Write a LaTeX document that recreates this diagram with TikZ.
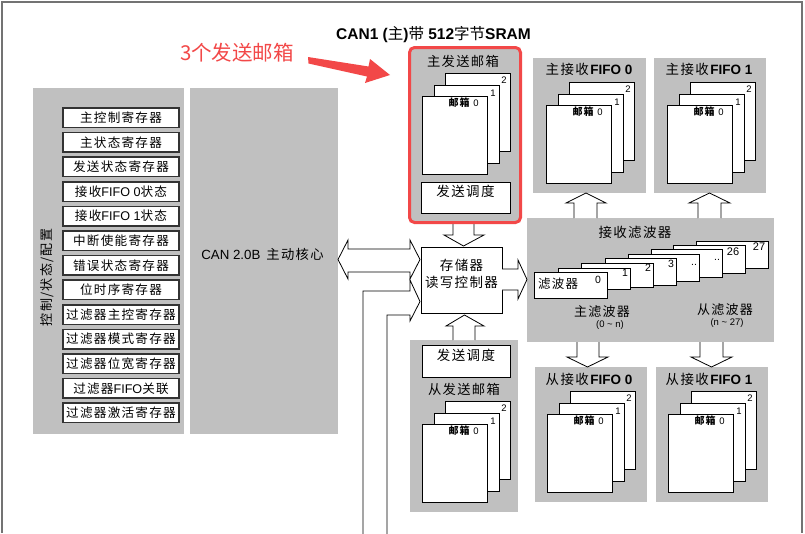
\documentclass[tikz,border=0pt]{standalone}
\usepackage{fontspec}
\setmainfont{Liberation Sans}
\newfontfamily\cjk[LetterSpace=10]{Noto Sans CJK SC}
\newfontfamily\cjkn{Noto Sans CJK SC}
\usetikzlibrary{fit,calc}
\definecolor{panelgray}{RGB}{192,192,192}
\definecolor{framegray}{RGB}{115,115,115}
\definecolor{annored}{RGB}{242,72,72}
\newcommand{\fsz}[1]{\fontsize{#1}{#1}\selectfont}
\newcommand{\lat}[1]{{\rmfamily #1}}
\begin{document}
\begin{tikzpicture}[x=1pt,y=-1pt,
  panel/.style={fill=panelgray, draw=none, inner sep=0pt},
  wbox/.style={fill=white, draw=black, line width=0.9pt, inner sep=0pt},
  regbox/.style={fill=white, draw=black!80, line width=1.5pt, inner sep=0pt,
     minimum width=116pt, minimum height=19.5pt, font=\cjk\fsz{12.6}},
  page/.style={fill=white, draw=black, line width=0.9pt, inner sep=0pt,
     minimum width=65pt, minimum height=78pt, anchor=north west},
  fpage/.style={fill=white, draw=black, line width=0.9pt, inner sep=0pt},
  numlab/.style={font=\fsz{9.5}, inner sep=0pt},
  mblab/.style={font=\cjk\bfseries\fsz{10}, inner sep=0pt},
  ttl/.style={font=\fsz{13.5}, inner sep=0pt},
  barrow/.style={fill=white, draw=black, line width=0.8pt, line join=miter},
  mailstack/.pic={
    \node[page] (-p2) at (23,-23) {};
    \node[page] (-p1) at (11.5,-11.5) {};
    \node[page] (-p0) at (0,0) {};
    \node[numlab] (-l0) at (54,7) {0};
    \node[mblab] (-m0) at (37,7) {邮箱};
    \node[numlab] (-l1) at (71,-2.5) {1};
    \node[numlab] (-l2) at (82,-16) {2};
  }
]
\useasboundingbox (0,0) rectangle (805,533);
% frame
\draw[framegray, line width=1.5pt] (2,533) -- (2,2) -- (802,2) -- (802,533);

% title
\node[inner sep=0pt, font=\fsz{15.5}] (title) at (433.5,35)
  {{\bfseries CAN1 (}{\cjkn 主}{\bfseries )}{\cjkn 带} {\bfseries 512}{\cjkn 字节}{\bfseries SRAM}};

% panels
\node[panel, fit={(33,88)(184,434)}] (ctrl) {};
\node[panel, fit={(190,88)(338,434)}] (core) {};
\node[panel, fit={(410,48)(520,222)}] (mtx) {};
\node[panel, fit={(533,58)(646,193)}] (mrx0) {};
\node[panel, fit={(654,58)(766,193)}] (mrx1) {};
\node[panel, fit={(527,218)(774,342)}] (filt) {};
\node[panel, fit={(410,340)(518,512)}] (stx) {};
\node[panel, fit={(535,367)(647,502)}] (srx0) {};
\node[panel, fit={(656,367)(768,502)}] (srx1) {};

% control / status / config
\node[rotate=90, font=\cjk\fsz{13}, inner sep=0pt] (ctrllab) at (47,277.5) {控制/状态/配置};
\node[regbox] (reg0) at (121,117.75) {主控制寄存器};
\node[regbox] (reg1) at (121,142.35) {主状态寄存器};
\node[regbox] (reg2) at (121,166.95) {发送状态寄存器};
\node[regbox] (reg3) at (121,191.55) {接收\lat{FIFO 0}状态};
\node[regbox] (reg4) at (121,216.15) {接收\lat{FIFO 1}状态};
\node[regbox] (reg5) at (121,240.75) {中断使能寄存器};
\node[regbox] (reg6) at (121,265.35) {错误状态寄存器};
\node[regbox] (reg7) at (121,289.95) {位时序寄存器};
\node[regbox] (reg8) at (121,314.55) {过滤器主控寄存器};
\node[regbox] (reg9) at (121,339.15) {过滤器模式寄存器};
\node[regbox] (reg10) at (121,363.75) {过滤器位宽寄存器};
\node[regbox] (reg11) at (121,388.35) {过滤器\lat{FIFO}关联};
\node[regbox] (reg12) at (121,412.95) {过滤器激活寄存器};

% core
\node[inner sep=0pt, font=\fsz{13.3}] (corelab) at (262.5,254) {CAN 2.0B\hspace{6pt}{\cjk 主动核心}};

% master tx mailboxes
\node[ttl, font=\cjk\fsz{13.3}] (mtxlab) at (463,61) {主发送邮箱};
\pic (mtxs) at (422,96) {mailstack};
\node[wbox, fit={(421,182)(510,213)}, font=\cjk\fsz{13.5}] (msched) {发送调度};

% master rx fifos
\node[ttl] (mrx0lab) at (589,69) {{\cjk 主接收}\textbf{FIFO 0}};
\pic (mrx0s) at (546,105) {mailstack};
\node[ttl] (mrx1lab) at (709,69) {{\cjk 主接收}\textbf{FIFO 1}};
\pic (mrx1s) at (667,105) {mailstack};

% memory controller
\node[wbox, fit={(421,247)(502,313)}, align=center, font=\cjk\fontsize{13.5}{17}\selectfont] (mem) {存储器\\读写控制器};

% slave tx
\node[wbox, fit={(422,345)(510,377)}, font=\cjk\fsz{13.5}] (ssched) {发送调度};
\node[ttl, font=\cjk\fsz{13.3}] (stxlab) at (464,389) {从发送邮箱};
\pic (stxs) at (422,424) {mailstack};

% slave rx fifos
\node[ttl] (srx0lab) at (589,379) {{\cjk 从接收}\textbf{FIFO 0}};
\pic (srx0s) at (547,414) {mailstack};
\node[ttl] (srx1lab) at (709,379) {{\cjk 从接收}\textbf{FIFO 1}};
\pic (srx1s) at (668,414) {mailstack};

% filters
\node[ttl, font=\cjk\fsz{13.5}] (filtlab) at (635,232) {接收滤波器};
\node[fpage, fit={(696,241)(768,268)}] (f27) {};
\node[fpage, fit={(673,245)(745,273)}] (f26) {};
\node[fpage, fit={(651,249)(722,277)}] (f5) {};
\node[fpage, fit={(628,254)(699,281)}] (f4) {};
\node[fpage, fit={(605,258)(676,285)}] (f3) {};
\node[fpage, fit={(581,263)(653,287)}] (f2) {};
\node[fpage, fit={(558,268)(630,289)}] (f1) {};
\node[fpage, fit={(534,272)(607,298)}] (f0) {};
\node[numlab, font=\fsz{10.5}] (f0n) at (598,280) {0};
\node[numlab, font=\fsz{10.5}] (f1n) at (625,273) {1};
\node[numlab, font=\fsz{10.5}] (f2n) at (648,268) {2};
\node[numlab, font=\fsz{10.5}] (f3n) at (671,264) {3};
\node[numlab, font=\fsz{10.5}, anchor=base] (f4n) at (694,265) {..};
\node[numlab, font=\fsz{10.5}, anchor=base] (f5n) at (717,260) {..};
\node[numlab, font=\fsz{11}] (f26n) at (733,252) {26};
\node[numlab, font=\fsz{11}] (f27n) at (759,247) {27};
\node[inner sep=0pt, font=\cjk\fsz{12.5}] (f0lab) at (558,284) {滤波器};
\node[inner sep=0pt, font=\cjk\fsz{13}] (mflab) at (602,312) {主滤波器};
\node[inner sep=0pt, font=\fsz{9.5}] (mfr) at (610,325) {(0 \textasciitilde\ n)};
\node[inner sep=0pt, font=\cjk\fsz{13}] (sflab) at (725,310) {从滤波器};
\node[inner sep=0pt, font=\fsz{9.5}] (sfr) at (727,323) {(n \textasciitilde\ 27)};

% block arrows
\fill[white] (453,223.5) -- (453,235) -- (444,235) -- (463.5,246) -- (484,235) -- (474,235) -- (474,223.5) -- cycle;
\draw[barrow] (453,224) -- (453,235) -- (444,235) -- (463.5,246) -- (484,235) -- (474,235) -- (474,224);
\filldraw[barrow] (453,340) -- (453,326) -- (446,326) -- (464.5,315) -- (484,326) -- (475,326) -- (475,340);
\filldraw[barrow] (574,218) -- (574,203) -- (566,203) -- (586,193) -- (606,203) -- (597,203) -- (597,218);
\filldraw[barrow] (698,218) -- (698,203) -- (689,203) -- (709.5,193) -- (730,203) -- (721,203) -- (721,218);
\filldraw[barrow] (577,342) -- (577,357) -- (567,357) -- (587.5,367) -- (608,357) -- (599,357) -- (599,342);
\filldraw[barrow] (700,342) -- (700,357) -- (691,357) -- (711.5,367) -- (732,357) -- (723,357) -- (723,342);
\filldraw[barrow] (502,269) -- (518,269) -- (518,260) -- (527,279.5) -- (518,299) -- (518,290) -- (502,290);
\filldraw[barrow] (338,259.5) -- (348,240) -- (348,249) -- (410,249) -- (410,240) -- (420,259.5) -- (410,279) -- (410,272) -- (348,272) -- (348,279) -- cycle;
\filldraw[barrow] (363,534) -- (363,291) -- (410,291) -- (410,280) -- (420,301.5) -- (410,321) -- (410,315) -- (387,315) -- (387,534);

% highlight
\node[draw=annored, line width=3pt, rounded corners=5pt, inner sep=0pt, fit={(409.5,47.5)(520.5,222.5)}] (hl) {};
\node[inner sep=0pt, font=\cjkn\fsz{20.5}, text=annored] (anno) at (237,53) {3个发送邮箱};
\fill[annored] (308,57) -- (368.5,66.5) -- (370,59) -- (390,75) -- (365,83) -- (367,76.5) -- (308.5,63.5) -- cycle;
\end{tikzpicture}
\end{document}
